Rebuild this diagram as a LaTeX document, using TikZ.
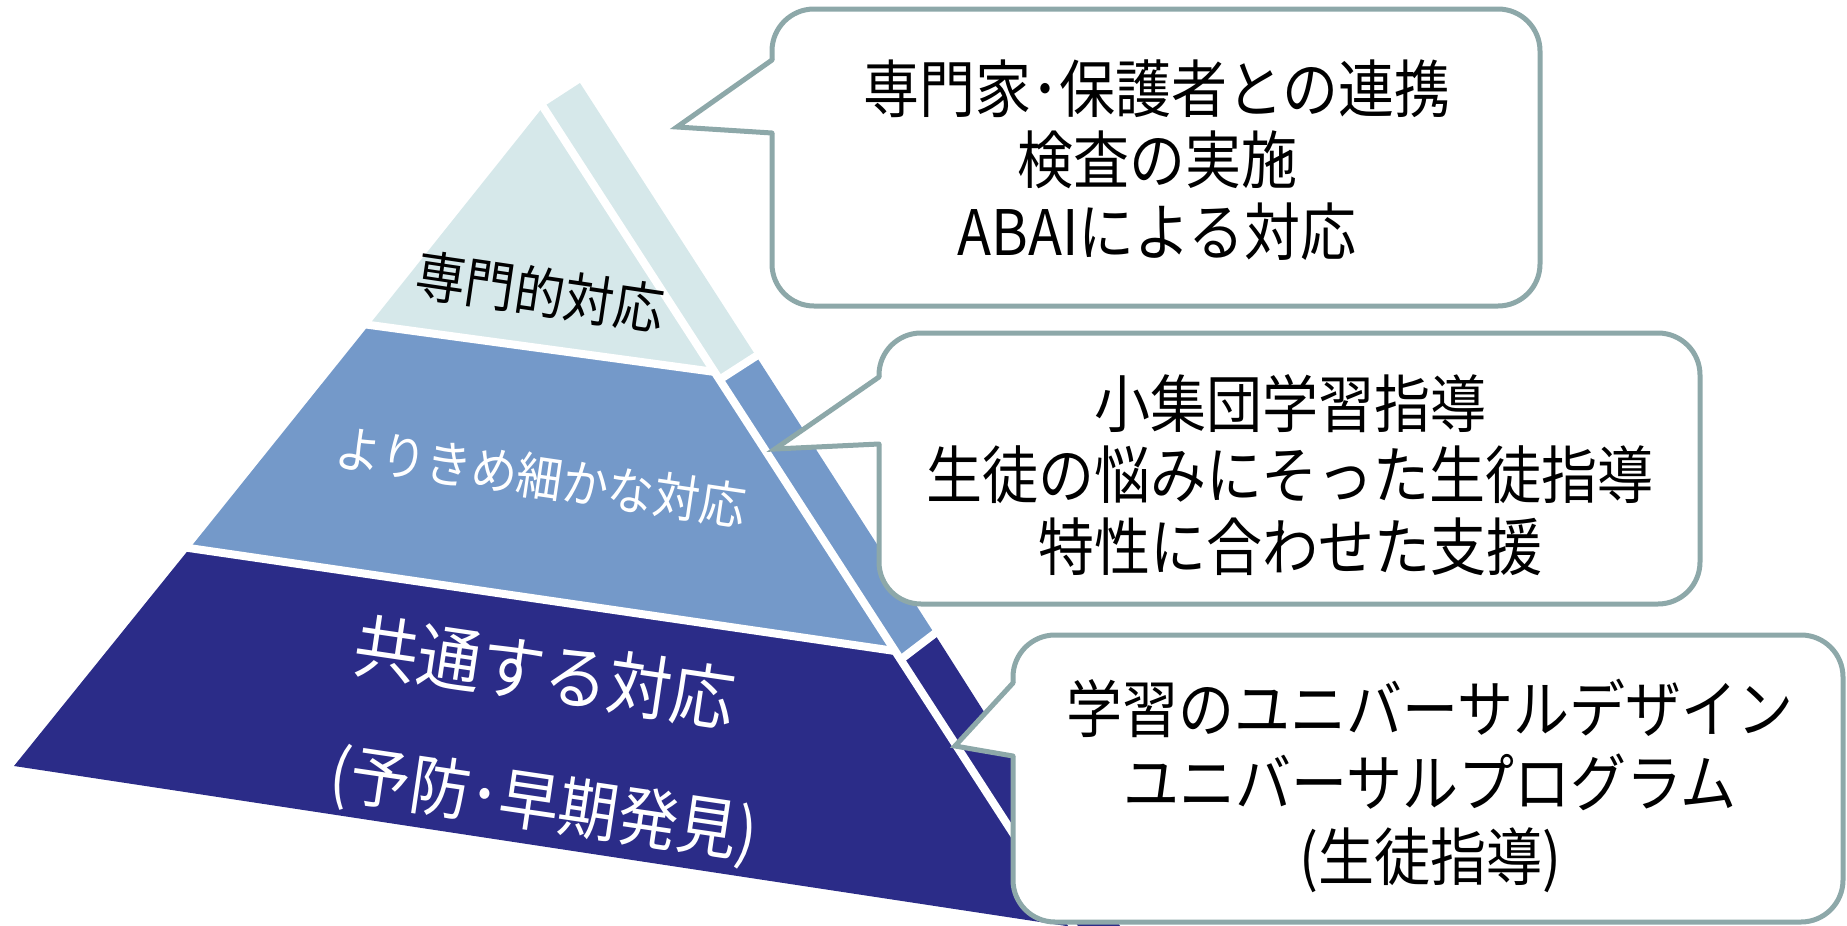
\documentclass[tikz,border=0pt]{standalone}
\usepackage{fontspec}
\setmainfont{Noto Sans CJK JP}
\definecolor{tierA}{HTML}{D6E8EA}
\definecolor{tierB}{HTML}{7499C9}
\definecolor{tierC}{HTML}{2B2C88}
\definecolor{edgecol}{HTML}{8DA8A9}
\tikzset{
  gapline/.style={white, line width=8pt},
  callout/.style={draw=edgecol, line width=5pt, fill=white, rounded corners=42pt,
    inner sep=0pt, outer sep=0pt},
  ctext/.style={inner sep=0pt, align=center, yscale=1.12, transform shape,
    font=\fontsize{56pt}{64pt}\selectfont},
  tail/.style={draw=edgecol, line width=5pt, line cap=round, line join=miter},
  lbl/.style={rotate=-8.4, yscale=1.1, transform shape, inner sep=0pt, align=center}
}
\begin{document}
\begin{tikzpicture}[x=1pt,y=-1pt]
\useasboundingbox (0,0) rectangle (1847,926);
\begin{scope}
  \clip (0,0) rectangle (1847,926);
  % side face
  \fill[tierA] (543,107) -- (580,83) -- (756,356) -- (719,380) -- cycle;
  \fill[tierB] (719,380) -- (756,356) -- (934,633) -- (900,660) -- cycle;
  \fill[tierC] (900,660) -- (934,633) -- (1120,926) -- (1073,926) -- cycle;
  % front face
  \fill[tierA] (543,107) -- (369,325) -- (715,372) -- cycle;
  \fill[tierB] (369,325) -- (715,372) -- (895,651) -- (190,548) -- cycle;
  \fill[tierC] (190,548) -- (895,651) -- (1073,927) -- (14,766) -- cycle;
  % white gaps
  \draw[gapline] (355,323) -- (715,372);
  \draw[gapline] (719,380) -- (764,351);
  \draw[gapline] (175,546) -- (895,651);
  \draw[gapline] (900,660) -- (942,628);
  \draw[gapline] (538,99) -- (1095,960);
\end{scope}
% tier labels
\node[lbl, font=\fontsize{50pt}{50pt}\selectfont] (l1) at (540,292) {専門的対応};
\node[lbl, white, font=\fontsize{46pt}{46pt}\selectfont] (l2) at (541,477) {よりきめ細かな対応};
\node[lbl, white, font=\fontsize{64pt}{64pt}\selectfont] (l3) at (545,672) {共通する対応};
\node[lbl, white, font=\fontsize{60pt}{60pt}\selectfont] (l4) at (544,806) {(予防･早期発見)};
% callouts
\node[callout, minimum width=768pt, minimum height=297pt] (c1) at (1156,157.5) {};
\coordinate (t1) at (677,127);
\fill[white] (t1) -- (772,60) -- (776,60) -- (776,133) -- (772,133) -- cycle;
\draw[tail] (772,60) -- (t1) -- (772,133);
\node[ctext] (c1t) at (1157,160) {専門家･保護者との連携\\検査の実施\\ABAIによる対応};

\node[callout, minimum width=821pt, minimum height=271pt] (c2) at (1289.5,468.5) {};
\coordinate (t2) at (775,449);
\fill[white] (t2) -- (879,377) -- (883,377) -- (883,444) -- (879,444) -- cycle;
\draw[tail] (879,377) -- (t2) -- (879,444);
\node[ctext] (c2t) at (1290,475) {小集団学習指導\\生徒の悩みにそった生徒指導\\特性に合わせた支援};

\node[callout, minimum width=830pt, minimum height=287pt] (c3) at (1428,778.5) {};
\coordinate (t3) at (955,746);
\fill[white] (t3) -- (1013,683) -- (1017,683) -- (1017,756) -- (1013,756) -- cycle;
\draw[tail] (1013,683) -- (t3) -- (1013,756);
\node[ctext, font=\fontsize{56pt}{66pt}\selectfont] (c3t) at (1430,786) {学習のユニバーサルデザイン\\ユニバーサルプログラム\\(生徒指導)};
\end{tikzpicture}
\end{document}
